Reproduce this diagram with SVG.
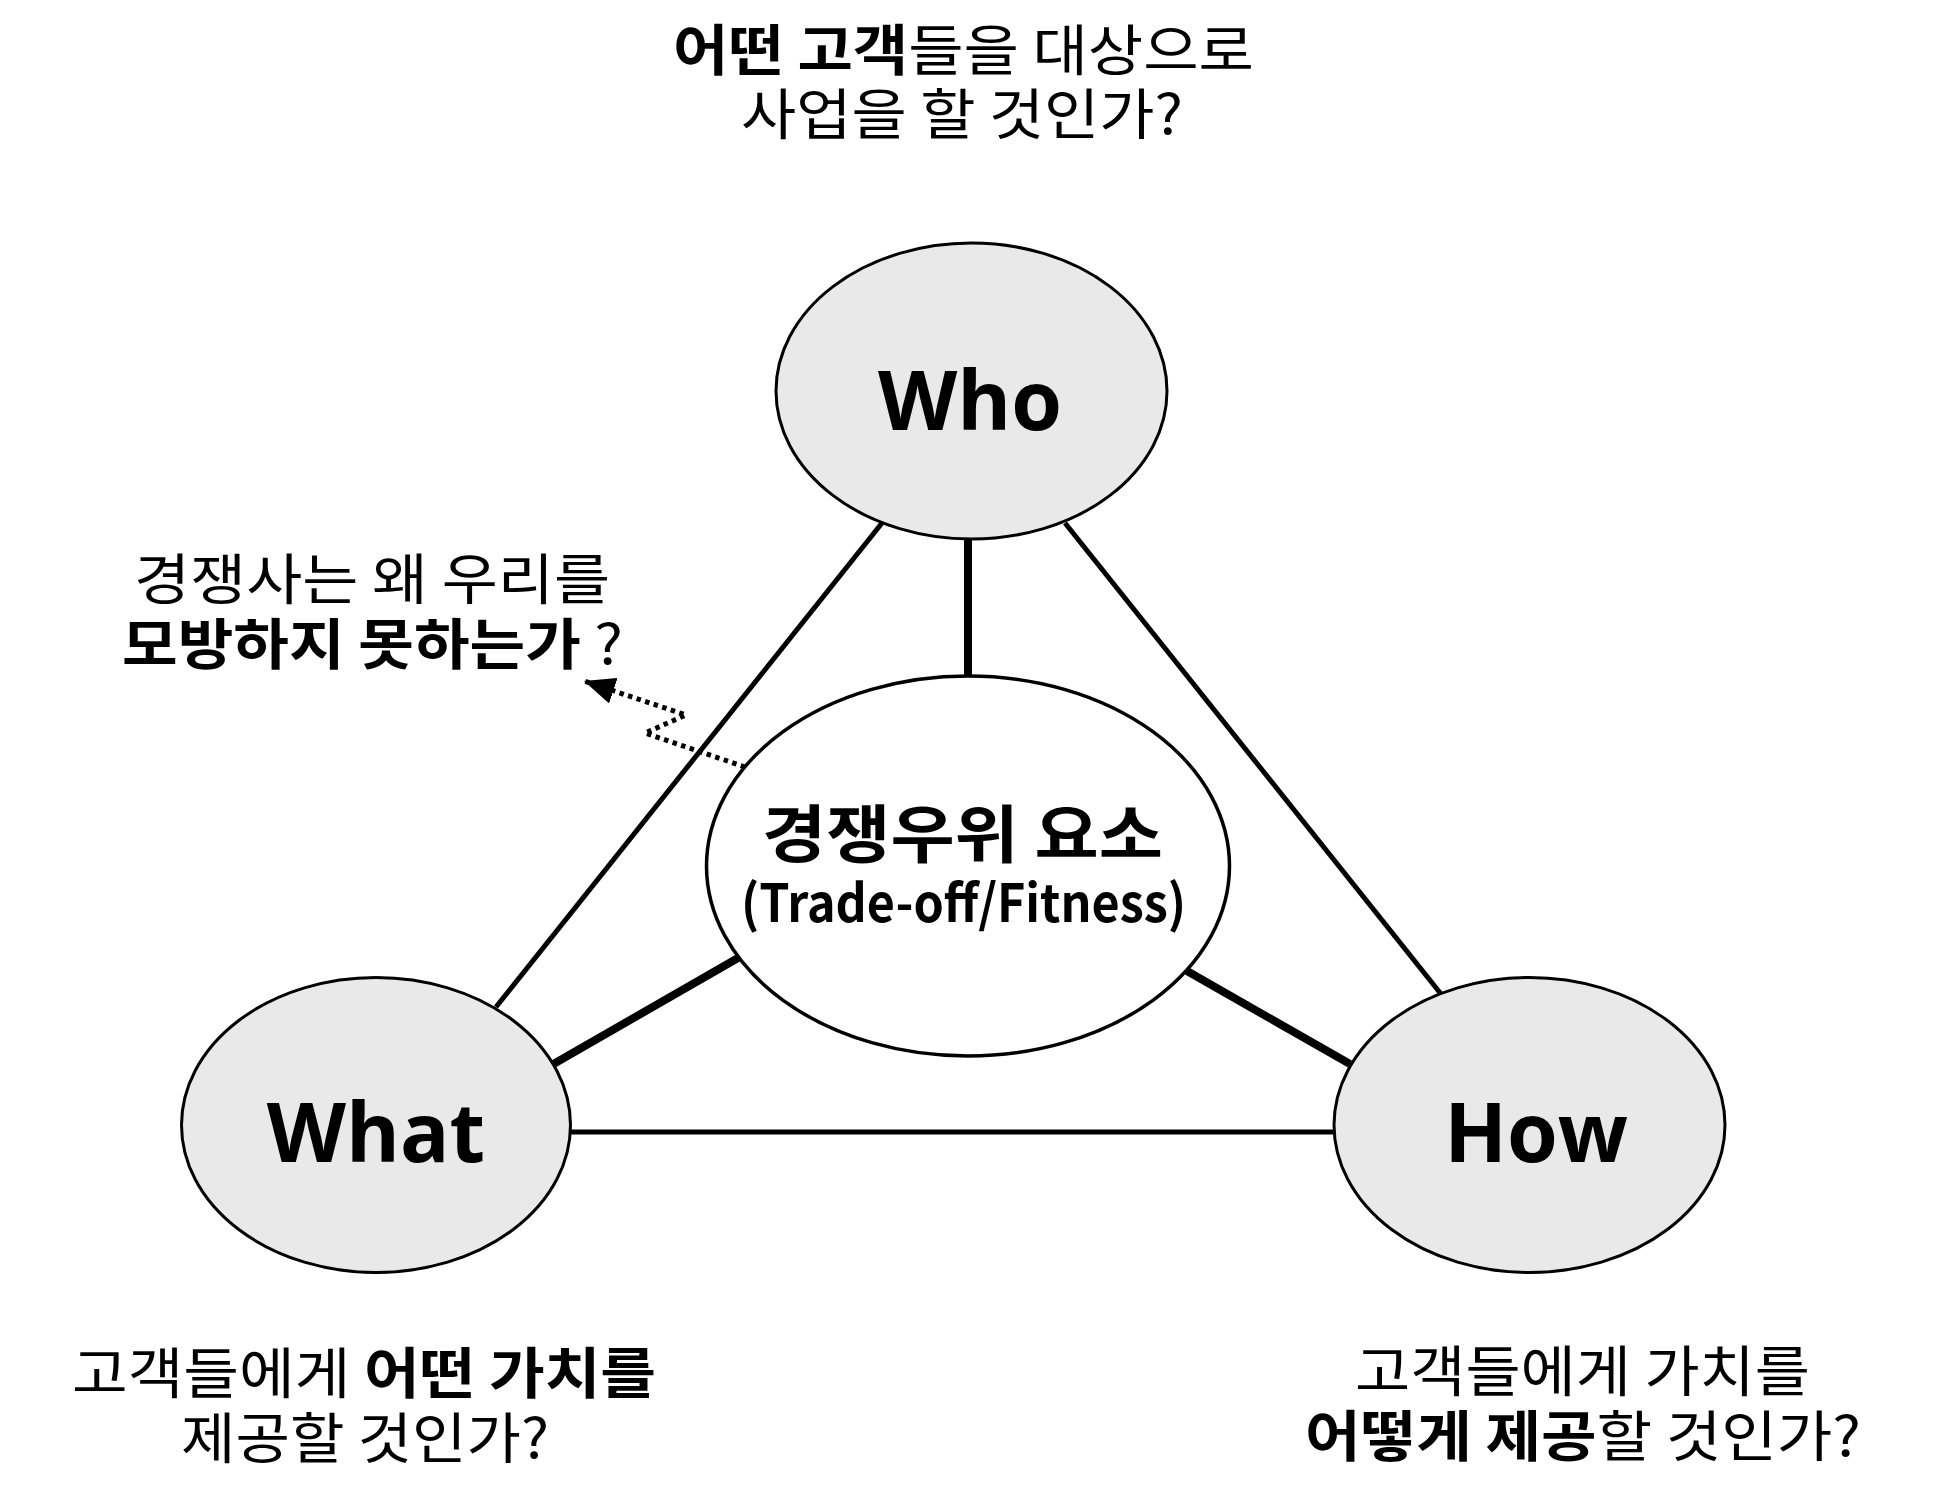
<svg xmlns="http://www.w3.org/2000/svg" width="1953" height="1505" viewBox="0 0 1953 1505">
<style>
.k{font-family:"Noto Sans CJK KR","Noto Sans",sans-serif;fill:#000}
.r{font-weight:400}
.b{font-weight:700}
.lat{font-family:"Open Sans","Noto Sans","Noto Sans CJK KR",sans-serif;font-weight:700;fill:#000}
.node{fill:#e9e9e9;stroke:#000;stroke-width:3}
.ctr{fill:#fff;stroke:#000;stroke-width:3.5}
.ln{stroke:#000;stroke-width:5;fill:none}
.tk{stroke:#000;stroke-width:8;fill:none}
.dot{fill:none;stroke:#000;stroke-width:5;stroke-dasharray:4.5,4.5}
</style>
<defs>
<marker id="ah2" viewBox="0 0 30 26" refX="30" refY="13" markerWidth="31" markerHeight="27" orient="auto" markerUnits="userSpaceOnUse">
<path d="M0,0 L30,13 L0,26 z" fill="#000"/>
</marker>
</defs>
<rect width="1953" height="1505" fill="#fff"/>
<g id="connectors">
<line class="ln" x1="882" y1="523" x2="496" y2="1007"/>
<line class="ln" x1="1065" y1="523" x2="1441" y2="994"/>
<line class="ln" x1="570" y1="1132" x2="1334" y2="1132"/>
<line class="tk" x1="968" y1="539" x2="968" y2="677"/>
<line class="tk" x1="550" y1="1066" x2="738" y2="958"/>
<line class="tk" x1="1187" y1="971" x2="1350" y2="1064"/>
<polyline class="dot" points="745,767 645,733 686,715 584,681" marker-end="url(#ah2)"/>
</g>
<g id="who">
<ellipse class="node" cx="971.5" cy="391" rx="195.5" ry="148"/>
<text class="lat" x="970" y="430" font-size="82" text-anchor="middle">Who</text>
</g>
<g id="what">
<ellipse class="node" cx="376" cy="1125" rx="194.5" ry="147.5"/>
<text class="lat" x="376" y="1162" font-size="82" text-anchor="middle">What</text>
</g>
<g id="how">
<ellipse class="node" cx="1529.5" cy="1125" rx="195.5" ry="147.5"/>
<text class="lat" x="1536" y="1162" font-size="82" text-anchor="middle">How</text>
</g>
<g id="center">
<ellipse class="ctr" cx="968" cy="866" rx="261.5" ry="190"/>
<text class="k b" x="762" y="857" font-size="63" textLength="401" lengthAdjust="spacingAndGlyphs">경쟁우위 요소</text>
<text class="k b" x="741" y="922" font-size="52" textLength="445" lengthAdjust="spacingAndGlyphs">(Trade-off/Fitness)</text>
</g>
<g id="label-top">
<text class="k r" x="673" y="70" font-size="55" textLength="581" lengthAdjust="spacingAndGlyphs"><tspan class="b">어떤 고객</tspan>들을 대상으로</text>
<text class="k r" x="741" y="134" font-size="55" textLength="442" lengthAdjust="spacingAndGlyphs">사업을 할 것인가?</text>
</g>
<g id="label-left">
<text class="k r" x="134" y="599" font-size="55" textLength="476" lengthAdjust="spacingAndGlyphs">경쟁사는 왜 우리를</text>
<text class="k r" x="122" y="664" font-size="55" textLength="501" lengthAdjust="spacingAndGlyphs"><tspan class="b">모방하지 못하는가</tspan> ?</text>
</g>
<g id="label-bl">
<text class="k r" x="72" y="1393" font-size="55" textLength="584" lengthAdjust="spacingAndGlyphs">고객들에게 <tspan class="b">어떤 가치를</tspan></text>
<text class="k r" x="181" y="1458" font-size="55" textLength="368" lengthAdjust="spacingAndGlyphs">제공할 것인가?</text>
</g>
<g id="label-br">
<text class="k r" x="1355" y="1391" font-size="55" textLength="455" lengthAdjust="spacingAndGlyphs">고객들에게 가치를</text>
<text class="k r" x="1305" y="1456" font-size="55" textLength="556" lengthAdjust="spacingAndGlyphs"><tspan class="b">어떻게 제공</tspan>할 것인가?</text>
</g>
</svg>
